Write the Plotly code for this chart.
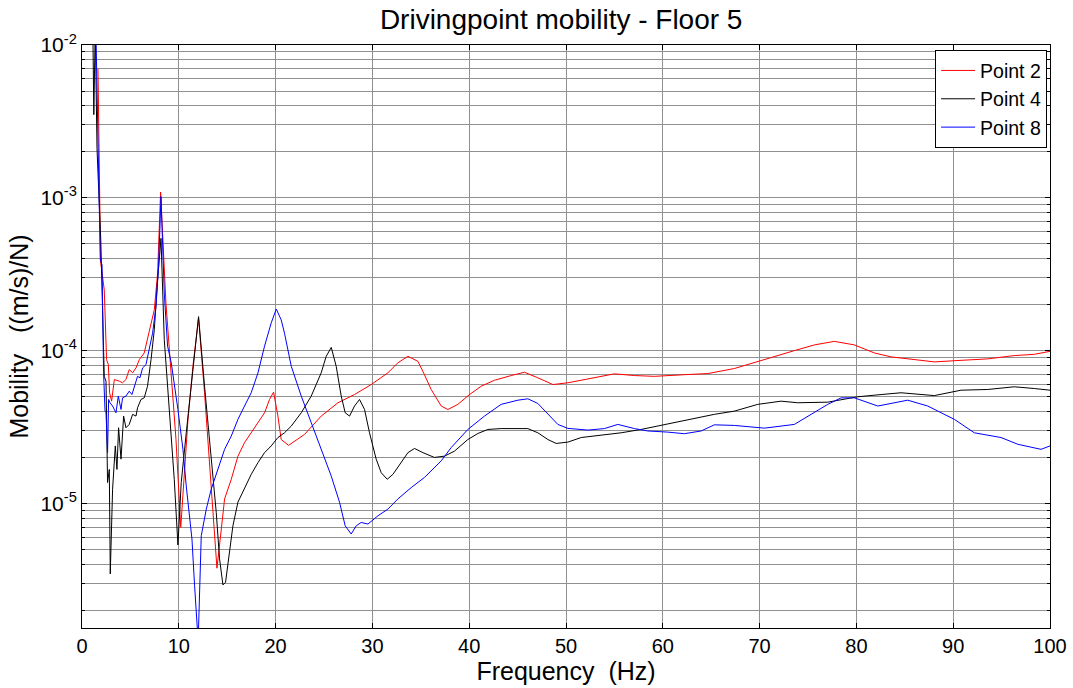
import plotly.graph_objects as go

# ---------------- data ----------------
freq_p2 = [1.65, 1.92, 2.30, 2.54, 2.72, 2.85, 3.06, 3.34, 3.85, 4.19, 4.54, 4.88, 5.23, 5.58, 5.92,
           6.43, 6.95, 7.47, 7.81, 8.12, 8.67, 9.19, 9.71, 10.20, 10.60, 10.95, 11.46, 12.04, 12.66,
           13.18, 13.69, 13.94, 14.39, 14.73, 15.42, 16.11, 16.79, 17.48, 18.18, 18.86, 19.37, 19.79,
           20.24, 20.58, 21.34, 22.99, 24.71, 26.44, 28.15, 29.88, 31.60, 32.63, 33.67, 34.70, 35.38,
           36.07, 37.11, 37.80, 38.83, 40.03, 41.24, 42.61, 44.34, 45.71, 47.09, 48.64, 50.19, 52.26,
           55.00, 57.07, 59.13, 62.23, 64.65, 67.40, 70.15, 73.59, 75.66, 77.72, 79.79, 81.85, 83.58,
           85.64, 88.05, 90.81, 93.57, 96.31, 98.38, 100.0]
mob_p2 = [6.98e-3, 3.83e-4, 2.50e-4, 8.73e-5, 8.10e-5, 5.30e-5, 4.67e-5, 6.47e-5, 6.31e-5, 6.16e-5,
          6.47e-5, 7.52e-5, 7.16e-5, 7.71e-5, 8.73e-5, 9.66e-5, 1.34e-4, 1.85e-4, 3.21e-4, 1.09e-3,
          2.05e-4, 7.19e-5, 2.62e-5, 6.97e-6, 1.76e-5, 3.55e-5, 7.90e-5, 1.63e-4, 5.30e-5, 1.76e-5,
          6.47e-6, 3.77e-6, 6.79e-6, 1.07e-5, 1.44e-5, 2.04e-5, 2.50e-5, 2.90e-5, 3.38e-5, 3.92e-5,
          4.79e-5, 5.35e-5, 3.73e-5, 2.62e-5, 2.40e-5, 2.83e-5, 3.73e-5, 4.56e-5, 5.16e-5, 6.00e-5,
          7.16e-5, 8.32e-5, 9.18e-5, 8.51e-5, 6.96e-5, 5.57e-5, 4.34e-5, 4.12e-5, 4.45e-5, 5.16e-5,
          5.85e-5, 6.40e-5, 6.87e-5, 7.22e-5, 6.64e-5, 6.00e-5, 6.16e-5, 6.54e-5, 7.05e-5, 6.87e-5,
          6.79e-5, 6.96e-5, 7.08e-5, 7.64e-5, 8.64e-5, 1.00e-4, 1.09e-4, 1.15e-4, 1.09e-4, 9.66e-5,
          9.10e-5, 8.83e-5, 8.44e-5, 8.64e-5, 8.83e-5, 9.28e-5, 9.46e-5, 9.90e-5]

freq_p4 = [1.12, 1.22, 1.37, 1.55, 1.94, 2.30, 2.48, 2.64, 2.82, 2.92, 3.16, 3.44, 3.61, 3.78, 4.03,
           4.30, 4.54, 4.88, 5.23, 5.58, 5.74, 6.09, 6.43, 6.77, 7.13, 7.47, 7.81, 8.16, 8.50, 9.02,
           9.53, 9.91, 10.25, 10.77, 11.29, 12.04, 12.66, 13.35, 13.87, 14.21, 14.56, 14.83, 15.24,
           15.59, 16.11, 16.79, 17.48, 18.18, 18.86, 19.55, 20.24, 20.92, 21.62, 22.65, 23.68, 24.71,
           25.23, 25.75, 26.26, 26.78, 27.19, 27.64, 28.15, 28.67, 29.19, 29.70, 30.39, 30.91, 31.53,
           32.12, 32.98, 33.67, 34.35, 35.22, 36.41, 37.45, 38.48, 39.86, 40.90, 41.93, 43.30, 46.06,
           47.09, 48.13, 48.98, 50.19, 51.57, 53.63, 55.70, 57.76, 60.17, 62.58, 65.33, 67.40, 69.81,
           72.22, 73.94, 77.04, 80.14, 82.55, 84.61, 88.05, 90.81, 93.57, 96.31, 98.38, 100.0]
mob_p4 = [1.3e-2, 3.5e-3, 1.3e-2, 2.1e-3, 5.30e-4, 6.79e-5, 6.31e-5, 1.37e-5, 1.67e-5, 3.46e-6,
          1.24e-5, 2.38e-5, 1.67e-5, 3.13e-5, 1.95e-5, 3.73e-5, 3.13e-5, 3.29e-5, 3.83e-5, 3.73e-5,
          4.23e-5, 4.79e-5, 4.91e-5, 5.85e-5, 8.73e-5, 1.37e-4, 2.90e-4, 5.43e-4, 1.18e-4, 3.92e-5,
          1.44e-5, 5.35e-6, 1.37e-5, 2.90e-5, 6.16e-5, 1.67e-4, 5.85e-5, 1.85e-5, 8.73e-6, 4.34e-6,
          2.93e-6, 3.05e-6, 4.79e-6, 7.14e-6, 1.02e-5, 1.27e-5, 1.55e-5, 1.85e-5, 2.15e-5, 2.38e-5,
          2.70e-5, 2.90e-5, 3.21e-5, 3.92e-5, 5.04e-5, 7.16e-5, 9.18e-5, 1.05e-4, 7.90e-5, 5.04e-5,
          3.92e-5, 3.73e-5, 4.34e-5, 4.79e-5, 4.12e-5, 2.90e-5, 1.95e-5, 1.59e-5, 1.44e-5, 1.55e-5,
          1.85e-5, 2.15e-5, 2.29e-5, 2.15e-5, 2.00e-5, 2.04e-5, 2.20e-5, 2.62e-5, 2.87e-5, 3.05e-5,
          3.09e-5, 3.09e-5, 2.90e-5, 2.62e-5, 2.47e-5, 2.52e-5, 2.70e-5, 2.79e-5, 2.90e-5, 3.05e-5,
          3.29e-5, 3.55e-5, 3.83e-5, 4.02e-5, 4.45e-5, 4.67e-5, 4.56e-5, 4.60e-5, 4.99e-5, 5.16e-5,
          5.30e-5, 5.08e-5, 5.51e-5, 5.57e-5, 5.80e-5, 5.65e-5, 5.51e-5]

freq_p8 = [1.45, 1.89, 2.07, 2.23, 2.38, 2.48, 2.64, 2.75, 2.89, 3.16, 3.51, 3.75, 4.03, 4.19, 4.54,
           4.88, 5.16, 5.40, 5.74, 5.99, 6.26, 6.61, 6.95, 7.29, 7.64, 7.91, 8.16, 8.50, 8.84, 9.22,
           9.91, 10.43, 10.77, 11.11, 11.36, 11.63, 12.00, 12.32, 12.84, 13.35, 14.05, 14.73, 15.42,
           16.11, 16.79, 17.48, 18.18, 18.86, 19.55, 20.07, 20.58, 20.92, 21.62, 22.65, 23.68, 24.71,
           25.75, 26.60, 27.19, 27.81, 28.33, 28.84, 29.54, 30.57, 31.60, 32.63, 34.01, 35.38, 37.11,
           38.14, 39.86, 41.58, 43.30, 45.03, 46.06, 47.09, 48.13, 49.16, 50.19, 52.26, 53.97, 55.35,
           57.07, 58.45, 60.52, 62.23, 63.96, 65.33, 67.40, 70.50, 73.59, 75.32, 77.04, 78.42, 79.79,
           82.21, 85.30, 87.37, 90.12, 92.18, 94.94, 96.67, 99.07, 100.0]
mob_p8 = [1.1e-2, 3.93e-4, 3.64e-4, 7.16e-5, 4.02e-5, 3.92e-5, 2.15e-5, 4.79e-5, 4.56e-5, 4.34e-5,
          3.92e-5, 5.04e-5, 4.12e-5, 4.91e-5, 5.04e-5, 5.43e-5, 5.16e-5, 5.85e-5, 6.79e-5, 6.64e-5,
          7.71e-5, 8.10e-5, 1.02e-4, 1.30e-4, 1.94e-4, 3.55e-4, 1.02e-3, 2.38e-4, 1.07e-4, 8.32e-5,
          4.12e-5, 2.26e-5, 1.30e-5, 8.11e-6, 5.85e-6, 2.90e-6, 1.25e-6, 6.15e-6, 9.18e-6, 1.24e-5,
          1.67e-5, 2.26e-5, 2.76e-5, 3.55e-5, 4.34e-5, 5.30e-5, 7.16e-5, 1.07e-4, 1.52e-4, 1.87e-4,
          1.59e-4, 1.30e-4, 7.90e-5, 5.04e-5, 3.38e-5, 2.26e-5, 1.51e-5, 1.02e-5, 7.14e-6, 6.31e-6,
          7.14e-6, 7.51e-6, 7.33e-6, 8.30e-6, 9.18e-6, 1.07e-5, 1.27e-5, 1.48e-5, 1.90e-5, 2.32e-5,
          3.05e-5, 3.73e-5, 4.45e-5, 4.74e-5, 4.84e-5, 4.51e-5, 3.83e-5, 3.29e-5, 3.10e-5, 3.02e-5,
          3.09e-5, 3.29e-5, 3.09e-5, 2.98e-5, 2.93e-5, 2.86e-5, 2.98e-5, 3.27e-5, 3.24e-5, 3.11e-5,
          3.29e-5, 3.83e-5, 4.45e-5, 4.91e-5, 4.91e-5, 4.34e-5, 4.74e-5, 4.34e-5, 3.55e-5, 2.90e-5,
          2.70e-5, 2.44e-5, 2.26e-5, 2.38e-5]

series_names = ["Point 2", "Point 4", "Point 8"]
series_colors = ["#ff0000", "#000000", "#0000ff"]

x_ticks = list(range(0, 101, 10))
y_major_exponents = [-5, -4, -3, -2]
y_minor_decades = [-6, -5, -4, -3]

# ---------------- figure ----------------
FONT = "Liberation Sans, Arial, Helvetica, sans-serif"

fig = go.Figure()
for name, color, fx, fy in zip(series_names, series_colors,
                               [freq_p2, freq_p4, freq_p8], [mob_p2, mob_p4, mob_p8]):
    fig.add_trace(go.Scatter(x=fx, y=fy, mode="lines", name=name,
                             line=dict(color=color, width=1)))

y_tickvals = [10.0 ** e for e in y_major_exponents]
y_ticktext = [f"10<sup>{e}</sup>" for e in y_major_exponents]
y_minor_vals = [m * 10.0 ** d for d in y_minor_decades for m in range(2, 10)]

grid_color = "#909090"

fig.update_layout(
    width=1073, height=688,
    margin=dict(l=82, r=23, t=45, b=60, autoexpand=False),
    paper_bgcolor="white", plot_bgcolor="white",
    font=dict(family=FONT, size=21, color="black"),
    title=dict(text="Drivingpoint mobility - Floor 5", x=0.523, xanchor="center",
               y=0.972, yanchor="middle", yref="container",
               font=dict(family=FONT, size=28, color="black")),
    showlegend=True,
    legend=dict(x=0.997, y=0.991, xanchor="right", yanchor="top",
                bgcolor="white", bordercolor="black", borderwidth=1,
                font=dict(family=FONT, size=19.5, color="black"),
                tracegroupgap=0, itemwidth=34),
)

fig.update_xaxes(
    automargin=False,
    range=[0, 100], tickvals=x_ticks, ticks="inside", ticklen=5, tickcolor="black",
    showline=True, linecolor="black", linewidth=1, mirror="ticks",
    showgrid=True, gridcolor=grid_color, gridwidth=1,
    zeroline=False, tickfont=dict(family=FONT, size=20),
    title=dict(text="Frequency\u00a0\u00a0(Hz)", font=dict(family=FONT, size=25), standoff=0),
)
fig.update_yaxes(
    automargin=False,
    type="log", range=[-5.815, -2], tickvals=y_tickvals, ticktext=y_ticktext,
    ticks="inside", ticklen=5, tickcolor="black",
    showline=True, linecolor="black", linewidth=1, mirror="ticks",
    showgrid=True, gridcolor=grid_color, gridwidth=1,
    minor=dict(tickmode="array", tickvals=y_minor_vals, ticks="inside", ticklen=3,
               tickcolor="black", showgrid=True, gridcolor=grid_color, gridwidth=1),
    zeroline=False, tickfont=dict(family=FONT, size=21),
    title=dict(text="Mobility\u00a0\u00a0\u00a0((m/s)/N)", font=dict(family=FONT, size=25), standoff=4),
)

fig.write_html("out.html")
